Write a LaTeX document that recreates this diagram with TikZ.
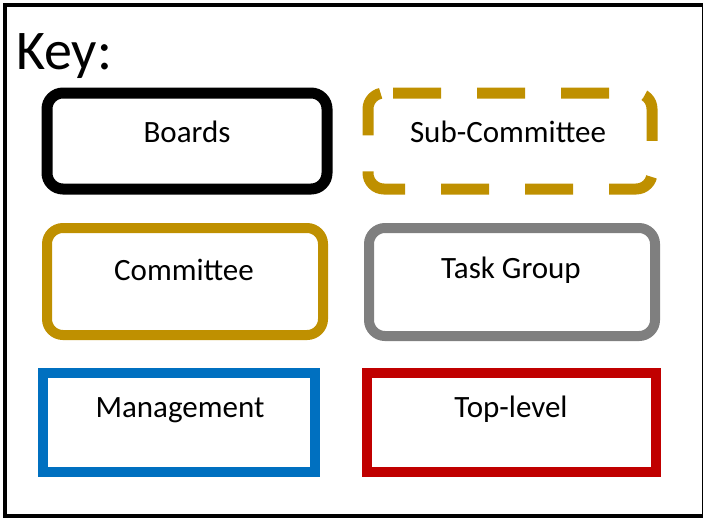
\documentclass[tikz,border=0pt]{standalone}
\usepackage{fontspec}
\setmainfont{Carlito}
\definecolor{gold}{HTML}{BF9000}
\definecolor{tgray}{HTML}{7F7F7F}
\definecolor{mblue}{HTML}{0070C0}
\definecolor{tred}{HTML}{C00000}
\begin{document}
\begin{tikzpicture}[x=1pt,y=-1pt,
  keybox/.style={draw, fill=none, minimum width=#1, inner sep=0pt},
  lbl/.style={anchor=base, font=\fontsize{31}{34}\selectfont, inner sep=0pt},
]
\useasboundingbox (0,0) rectangle (703,517);
\begin{scope}
\clip (0,0) rectangle (703,517);
\draw[line width=4pt] (5,4.5) rectangle (704,516);
\end{scope}
\node[anchor=base west, inner sep=0pt, font=\fontsize{56}{60}\selectfont] (key) at (16,69) {Key:};
% boxes
\node[keybox=280pt, minimum height=96pt, line width=11pt, rounded corners=16pt] (boards) at (187,141) {};
\node[minimum width=284pt, minimum height=96pt, inner sep=0pt, outer sep=0pt] (sub) at (510,141) {};
\draw[draw=gold, line width=11pt, dash pattern=on 48pt off 36pt, dash phase=75pt, rounded corners=16pt]
  (sub.north west) -- (sub.north east) -- (sub.south east)
  -- (sub.south west) -- cycle;
\node[keybox=276pt, minimum height=107pt, line width=10pt, rounded corners=16pt, draw=gold] (comm) at (185,281.5) {};
\node[keybox=286pt, minimum height=108pt, line width=10pt, rounded corners=16pt, draw=tgray] (task) at (512,282) {};
\node[keybox=272pt, minimum height=99pt, line width=10pt, draw=mblue] (mgmt) at (179,422.5) {};
\node[keybox=289pt, minimum height=99pt, line width=10pt, draw=tred] (top) at (511.5,422.5) {};
% labels
\node[lbl] (boardsT) at (187,142) {Boards};
\node[lbl] (subT) at (508,142) {Sub-Committee};
\node[lbl] (commT) at (184,280) {Committee};
\node[lbl] (taskT) at (511,278) {Task Group};
\node[lbl] (mgmtT) at (180,417) {Management};
\node[lbl] (topT) at (511,417) {Top-level};
\end{tikzpicture}
\end{document}
